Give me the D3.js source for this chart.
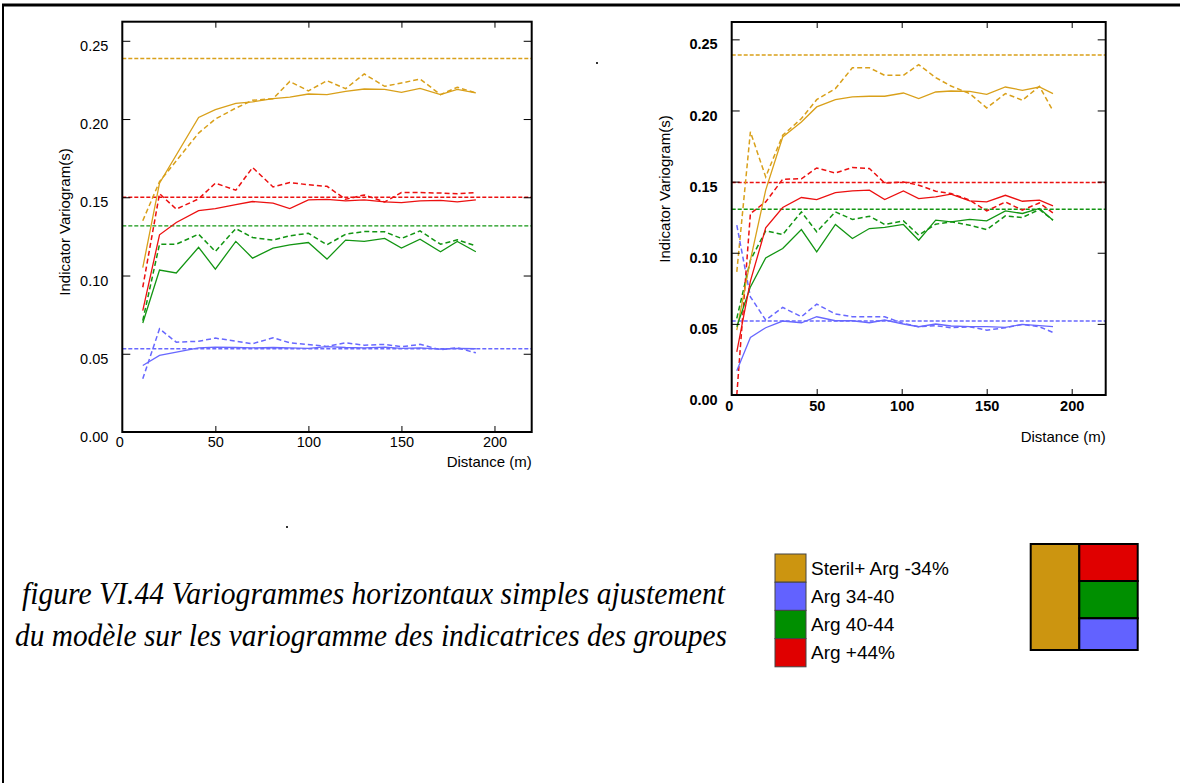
<!DOCTYPE html>
<html>
<head>
<meta charset="utf-8">
<script src="https://cdn.jsdelivr.net/npm/d3@7"></script>
<style>
  body { margin: 0; background: #fff; }
  svg { display: block; }
  text { font-family: "Liberation Sans", Arial, sans-serif; fill: #000; }
  text.caption { font-family: "Liberation Serif", "Times New Roman", serif; font-style: italic; }
</style>
</head>
<body>
<svg id="fig" width="1180" height="783"></svg>
<script>
// groups, in legend order
const groups = ['Steril+ Arg -34%', 'Arg 34-40', 'Arg 40-44', 'Arg +44%'];
const lineColors = ['#D9A01A', '#6868FF', '#129512', '#EC1010'];
const swatchColors = ['#CC9510', '#6262FF', '#008F00', '#E00000'];

const yTicks = [0, 0.05, 0.10, 0.15, 0.20, 0.25];
const xTicks = [0, 50, 100, 150, 200];

// left panel
const leftLags = [11, 20, 29, 41, 50, 61, 70, 81, 90, 100, 110, 120, 130, 141, 150, 160, 171, 180, 190];
const leftSolid = [
  [0.105, 0.159, null, 0.201, 0.206, 0.210, 0.211, 0.213, 0.214, 0.216, 0.2156, 0.2177, 0.2192, 0.219, 0.217, 0.2196, 0.2156, 0.219, 0.2167],
  [0.0425, 0.0489, null, 0.0538, 0.0542, 0.054, 0.0538, 0.054, 0.0538, 0.0535, 0.0545, 0.054, 0.0538, 0.0542, 0.0535, 0.0537, 0.053, 0.0535, 0.0532],
  [0.0697, 0.1035, 0.1016, 0.118, 0.1041, 0.1218, 0.1111, 0.1175, 0.1196, 0.1211, 0.1105, 0.1226, 0.1218, 0.1237, 0.1175, 0.1232, 0.1152, 0.1218, 0.1152],
  [0.0776, 0.126, 0.1339, 0.1415, 0.1428, 0.1453, 0.1473, 0.1462, 0.1428, 0.1483, 0.1487, 0.1477, 0.1483, 0.147, 0.1466, 0.1477, 0.148, 0.147, 0.1483]
];
const leftDashed = [
  [0.135, 0.160, null, 0.191, 0.200, 0.207, 0.212, 0.213, 0.224, 0.218, 0.2245, 0.2194, 0.2288, 0.2209, 0.223, 0.2256, 0.2156, 0.2203, 0.2167],
  [0.034, 0.0659, 0.0574, 0.058, 0.060, null, 0.0564, 0.0602, 0.057, null, 0.0547, 0.057, 0.0555, 0.056, 0.0545, 0.056, 0.0526, 0.0538, 0.0506],
  [0.0712, 0.120, 0.120, 0.1264, 0.1154, 0.130, 0.1243, 0.1226, 0.1254, 0.127, 0.1196, 0.1264, 0.1281, 0.1279, 0.1237, 0.1285, 0.120, 0.1228, 0.119],
  [0.0925, 0.1523, 0.1424, 0.149, 0.159, 0.1545, 0.169, 0.1566, 0.1594, 0.158, 0.157, 0.1487, 0.1515, 0.147, 0.153, 0.153, 0.1527, 0.1522, 0.153]
];
const leftSills = [0.2387, 0.0532, 0.1317, 0.150];

// right panel
const rightLags = [3, 11, 20, 30, 41, 50, 61, 71, 81, 90, 101, 110, 120, 129, 140, 150, 161, 171, 181, 189];
const rightSolid = [
  [0.0456, 0.0948, 0.144, 0.1814, 0.1919, 0.2025, 0.2076, 0.2095, 0.210, 0.210, 0.2123, 0.2083, 0.213, 0.2137, 0.2135, 0.2114, 0.2165, 0.2142, 0.2165, 0.2119],
  [0.017, 0.0405, 0.0473, 0.052, 0.0508, 0.055, 0.0522, 0.0522, 0.0508, 0.0527, 0.0499, 0.048, 0.0499, 0.0485, 0.048, 0.048, 0.0475, 0.0496, 0.0487, 0.048],
  [0.048, 0.076, 0.0964, 0.103, 0.1163, 0.1007, 0.1199, 0.110, 0.117, 0.1178, 0.1199, 0.1088, 0.1229, 0.1217, 0.1234, 0.1224, 0.1294, 0.1276, 0.1311, 0.1229],
  [0.0304, 0.080, 0.1175, 0.1318, 0.1388, 0.1374, 0.1423, 0.1435, 0.144, 0.1374, 0.1435, 0.1381, 0.1393, 0.1412, 0.1365, 0.1357, 0.1404, 0.1362, 0.137, 0.133]
];
const rightDashed = [
  [0.0866, 0.185, 0.1533, 0.1826, 0.1943, 0.2076, 0.2154, 0.230, 0.230, 0.2247, 0.2247, 0.2322, 0.2231, 0.2172, 0.2119, 0.2018, 0.2119, 0.2072, 0.2170, 0.1997],
  [0.1194, 0.069, 0.0527, 0.0616, 0.055, 0.0639, 0.0569, 0.055, 0.055, 0.055, 0.0503, 0.048, 0.0487, 0.0473, 0.048, 0.0456, 0.0473, 0.0496, 0.048, 0.044],
  [0.0539, 0.0948, 0.1154, 0.1128, 0.1287, 0.1147, 0.1287, 0.1234, 0.1257, 0.1199, 0.1224, 0.1124, 0.1201, 0.1217, 0.1194, 0.1163, 0.1259, 0.1248, 0.1304, 0.1229],
  [0.0, 0.1276, 0.1357, 0.1517, 0.152, 0.1596, 0.156, 0.160, 0.1592, 0.149, 0.1498, 0.1475, 0.1433, 0.1416, 0.137, 0.1294, 0.1357, 0.130, 0.135, 0.128]
];
const rightSills = [0.239, 0.052, 0.1306, 0.1494];

const captionLines = [
  'figure VI.44 Variogrammes horizontaux simples ajustement',
  'du modèle sur les variogramme des indicatrices des groupes'
];

const svg = d3.select('#fig');

// outer page frame (top and left edges only)
svg.append('line').attr('x1', 2).attr('x2', 1180).attr('y1', 5).attr('y2', 5)
  .attr('stroke', '#000').attr('stroke-width', 3);
svg.append('line').attr('x1', 3).attr('x2', 3).attr('y1', 4).attr('y2', 783)
  .attr('stroke', '#000').attr('stroke-width', 2);

function drawPanel(cfg) {
  const x = d3.scaleLinear().domain([0, 220]).range([cfg.left, cfg.right]);
  const y = d3.scaleLinear().domain([0, 0.2622]).range([cfg.bottom, cfg.top]);
  const g = svg.append('g');

  const line = d3.line()
    .x(d => x(d[0]))
    .y(d => y(d[1]));

  // sills
  cfg.sills.forEach((s, i) => {
    g.append('line')
      .attr('x1', x(0)).attr('x2', x(220))
      .attr('y1', y(s)).attr('y2', y(s))
      .attr('stroke', lineColors[i]).attr('stroke-width', 1.4)
      .attr('stroke-dasharray', '4,2');
  });

  const toPts = vals => cfg.lags.map((l, j) => [l, vals[j]]).filter(d => d[1] !== null);

  cfg.dashed.forEach((vals, i) => {
    g.append('path').datum(toPts(vals))
      .attr('d', line).attr('fill', 'none')
      .attr('stroke', lineColors[i]).attr('stroke-width', 1.5)
      .attr('stroke-dasharray', '5,3');
  });
  cfg.solid.forEach((vals, i) => {
    g.append('path').datum(toPts(vals))
      .attr('d', line).attr('fill', 'none')
      .attr('stroke', lineColors[i]).attr('stroke-width', 1.3);
  });

  // frame
  g.append('rect')
    .attr('x', cfg.left).attr('y', cfg.top)
    .attr('width', cfg.right - cfg.left).attr('height', cfg.bottom - cfg.top)
    .attr('fill', 'none').attr('stroke', '#000').attr('stroke-width', 2);

  const weight = cfg.bold ? 'bold' : 'normal';

  // y axis with labels
  const ya = g.append('g').attr('transform', `translate(${cfg.left},0)`)
    .call(d3.axisLeft(y).tickValues(yTicks).tickSize(-8).tickPadding(14)
      .tickFormat(d3.format('.2f')));
  ya.select('.domain').remove();
  ya.selectAll('text').style('font-size', '14.5px').style('font-weight', weight)
    .style('font-family', '"Liberation Sans", Arial, sans-serif')
    .attr('dy', '0.32em').attr('transform', 'translate(0,5)');

  const ra = g.append('g').attr('transform', `translate(${cfg.right},0)`)
    .call(d3.axisRight(y).tickValues(yTicks.slice(1)).tickSize(-8).tickFormat(''));
  ra.select('.domain').remove();

  const ta = g.append('g').attr('transform', `translate(0,${cfg.top})`)
    .call(d3.axisTop(x).tickValues(xTicks.slice(1)).tickSize(-6).tickFormat(''));
  ta.select('.domain').remove();

  const ba = g.append('g').attr('transform', `translate(0,${cfg.bottom})`)
    .call(d3.axisBottom(x).tickValues(xTicks).tickSize(-6).tickPadding(cfg.xPad));
  ba.select('.domain').remove();
  ba.selectAll('text').style('font-size', '14.5px').style('font-weight', weight)
    .style('font-family', '"Liberation Sans", Arial, sans-serif')
    .attr('dx', d => d === 0 ? -3 : 0);
  ba.selectAll('line').filter(d => d === 0).remove();

  g.append('text')
    .attr('x', cfg.right).attr('y', cfg.distY)
    .attr('text-anchor', 'end').style('font-size', '15px')
    .text('Distance (m)');

  g.append('text')
    .attr('transform', `translate(${cfg.ylabX},${cfg.ylabY}) rotate(-90)`)
    .attr('text-anchor', 'middle').style('font-size', '15px')
    .text('Indicator Variogram(s)');
}

drawPanel({
  left: 122.3, right: 531.7, top: 21.7, bottom: 432,
  lags: leftLags, solid: leftSolid, dashed: leftDashed, sills: leftSills,
  bold: false, xPad: 5, distY: 467, ylabX: 70, ylabY: 222
});

drawPanel({
  left: 731.7, right: 1105.7, top: 22, bottom: 395,
  lags: rightLags, solid: rightSolid, dashed: rightDashed, sills: rightSills,
  bold: true, xPad: 6, distY: 442, ylabX: 670, ylabY: 189
});

// stray specks in the scan
svg.append('rect').attr('x', 596).attr('y', 62).attr('width', 2).attr('height', 2).attr('fill', '#333');
svg.append('rect').attr('x', 286).attr('y', 526).attr('width', 2).attr('height', 2).attr('fill', '#333');

// caption
const capX = [22, 15];
const capW = [703, 712];
const capY = [604, 646];
captionLines.forEach((t, i) => {
  svg.append('text')
    .attr('class', 'caption')
    .attr('x', capX[i]).attr('y', capY[i])
    .style('font-size', '31px')
    .attr('textLength', capW[i]).attr('lengthAdjust', 'spacingAndGlyphs')
    .text(t);
});

// legend
const lg = svg.append('g').attr('transform', 'translate(775,554)');
groups.forEach((name, i) => {
  lg.append('rect')
    .attr('x', 0).attr('y', i * 28.2)
    .attr('width', 31).attr('height', 28.2)
    .attr('fill', swatchColors[i]).attr('stroke', '#444').attr('stroke-width', 1);
  lg.append('text')
    .attr('x', 36).attr('y', i * 28.2 + 14.1)
    .attr('dy', '0.35em').style('font-size', '19px')
    .text(name);
});

// group layout square
const sq = svg.append('g');
const sqCells = [
  { c: 0, x: 1030.7, y: 544, w: 48.6, h: 106 },
  { c: 3, x: 1079.3, y: 544, w: 58.4, h: 37 },
  { c: 2, x: 1079.3, y: 581, w: 58.4, h: 37.3 },
  { c: 1, x: 1079.3, y: 618.3, w: 58.4, h: 31.7 }
];
sqCells.forEach(d => {
  sq.append('rect')
    .attr('x', d.x).attr('y', d.y).attr('width', d.w).attr('height', d.h)
    .attr('fill', swatchColors[d.c]).attr('stroke', '#000').attr('stroke-width', 2);
});
</script>
</body>
</html>
